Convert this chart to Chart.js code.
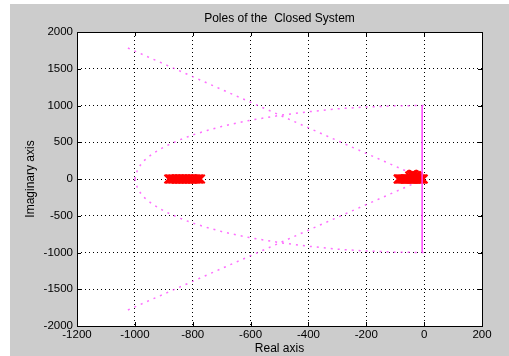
<!DOCTYPE html>
<html>
<head>
<meta charset="utf-8">
<script src="https://cdn.jsdelivr.net/npm/chart.js@4/dist/chart.umd.min.js"></script>
<style>
  html, body { margin: 0; padding: 0; background: #fff; }
  #wrap { width: 509px; height: 356px; }
</style>
</head>
<body>
<div id="wrap"><canvas id="poleChart" width="509" height="356"></canvas></div>
<script>
// tick labels of the axes
const xTicks = [-1200, -1000, -800, -600, -400, -200, 0, 200];
const yTicks = [-2000, -1500, -1000, -500, 0, 500, 1000, 1500, 2000];

// circle of natural frequency (dotted)
const circleX      = [-1000, -990, -970, -940, -900, -850, -800, -750, -700, -650, -600, -500, -400, -300, -200, -100, 0];
const circleUpperY = [0, 140, 245, 340, 435, 525, 600, 660, 715, 760, 800, 865, 915, 955, 980, 995, 1000];
const circleLowerY = [0, -140, -245, -340, -435, -525, -600, -660, -715, -760, -800, -865, -915, -955, -980, -995, -1000];

// damping lines (dotted)
const dampX      = [-1024, 0];
const dampUpperY = [1782, 0];
const dampLowerY = [-1782, 0];

// vertical solid line near the imaginary axis
const stemX = [-7, -7];
const stemY = [-1000, 1000];

// poles of the closed system (red x)
const leftPoleX = [-883, -878, -873, -868, -863, -858, -853, -848, -843, -838, -833, -828,
                   -823, -818, -813, -808, -803, -798, -793, -788, -783, -778, -773];
const leftPoleY = [0, 0, 0, 0, 0, 0, 0, 0, 0, 0, 0, 0, 0, 0, 0, 0, 0, 0, 0, 0, 0, 0, 0];
const rightPoleX = [-90, -86, -82, -78, -74, -70, -66, -62, -58, -54, -50, -46, -42, -38, -34,
                    -30, -26, -22, -18, -14, -10, -6, -3,
                    -50, -45, -40, -35, -30, -25, -20];
const rightPoleY = [0, 0, 0, 0, 0, 0, 0, 0, 0, 0, 0, 0, 0, 0, 0, 0, 0, 0, 0, 0, 0, 0, 0,
                    40, 55, 65, 60, 50, 45, 30];

function toPoints(xs, ys) {
    return xs.map((x, i) => ({x: x, y: ys[i]}));
}

const magentaDot = 'rgba(255, 60, 255, 0.75)';
const fontFamily = "'Liberation Sans', Arial, Helvetica, sans-serif";

// gray figure background and white axes
const backgroundPlugin = {
    id: 'figureBackground',
    beforeDraw(chart) {
        const ctx = chart.ctx;
        const a = chart.chartArea;
        ctx.save();
        ctx.fillStyle = '#ffffff';
        ctx.fillRect(0, 0, chart.width, chart.height);
        ctx.fillStyle = '#cccccc';
        ctx.fillRect(10, 4, chart.width - 10, chart.height - 4);
        ctx.fillStyle = '#ffffff';
        ctx.fillRect(a.left, a.top, a.right - a.left, a.bottom - a.top);
        ctx.restore();
    }
};

// axes box with inward ticks on all four sides
const boxPlugin = {
    id: 'axesBox',
    afterDraw(chart) {
        const ctx = chart.ctx;
        const a = chart.chartArea;
        const tl = 4;
        ctx.save();
        ctx.strokeStyle = '#000000';
        ctx.lineWidth = 1;
        ctx.beginPath();
        xTicks.forEach(v => {
            const px = Math.round(chart.scales.x.getPixelForValue(v)) + 0.5;
            ctx.moveTo(px, a.bottom); ctx.lineTo(px, a.bottom - tl);
            ctx.moveTo(px, a.top); ctx.lineTo(px, a.top + tl);
        });
        yTicks.forEach(v => {
            const py = Math.round(chart.scales.y.getPixelForValue(v)) + 0.5;
            ctx.moveTo(a.left, py); ctx.lineTo(a.left + tl, py);
            ctx.moveTo(a.right, py); ctx.lineTo(a.right - tl, py);
        });
        ctx.stroke();
        ctx.strokeRect(Math.round(a.left) + 0.5, Math.round(a.top) + 0.5,
                       Math.round(a.right - a.left), Math.round(a.bottom - a.top));
        ctx.restore();
    }
};

Chart.defaults.font.family = fontFamily;
Chart.defaults.font.size = 11.5;
Chart.defaults.color = '#000000';

new Chart(document.getElementById('poleChart'), {
    type: 'scatter',
    data: {
        datasets: [
            {
                data: toPoints(stemX, stemY),
                showLine: true,
                borderColor: '#ff40ff',
                borderWidth: 1.5,
                pointRadius: 0
            },
            {
                data: toPoints(rightPoleX, rightPoleY),
                pointStyle: 'crossRot',
                pointRadius: 6,
                borderColor: '#ff0000',
                borderWidth: 2
            },
            {
                data: toPoints(leftPoleX, leftPoleY),
                pointStyle: 'crossRot',
                pointRadius: 6,
                borderColor: '#ff0000',
                borderWidth: 2
            },
            {
                data: toPoints(circleX, circleUpperY),
                showLine: true,
                borderColor: magentaDot,
                borderWidth: 1.5,
                borderDash: [2, 5],
                pointRadius: 0
            },
            {
                data: toPoints(circleX, circleLowerY),
                showLine: true,
                borderColor: magentaDot,
                borderWidth: 1.5,
                borderDash: [2, 5],
                pointRadius: 0
            },
            {
                data: toPoints(dampX, dampUpperY),
                showLine: true,
                borderColor: magentaDot,
                borderWidth: 1.5,
                borderDash: [2, 5],
                pointRadius: 0
            },
            {
                data: toPoints(dampX, dampLowerY),
                showLine: true,
                borderColor: magentaDot,
                borderWidth: 1.5,
                borderDash: [2, 5],
                pointRadius: 0
            }
        ]
    },
    options: {
        responsive: false,
        animation: false,
        layout: { padding: { top: 0, left: 10, right: 27, bottom: 0 } },
        plugins: {
            legend: { display: false },
            tooltip: { enabled: false },
            title: {
                display: true,
                text: 'Poles of the  Closed System',
                fullSize: false,
                color: '#000000',
                font: { size: 12, weight: 'normal' },
                padding: { top: 11.4, bottom: 6.2 }
            }
        },
        scales: {
            x: {
                type: 'linear',
                min: -1200,
                max: 200,
                afterFit(scale) { scale.height = 30; },
                afterBuildTicks(scale) { scale.ticks = xTicks.map(v => ({value: v})); },
                ticks: {
                    padding: 2,
                    maxRotation: 0,
                    autoSkip: false,
                    callback: v => String(v)
                },
                grid: { color: '#000000', drawTicks: false, lineWidth: 1 },
                border: { display: false, dash: [1, 3] },
                title: {
                    display: true,
                    text: 'Real axis',
                    font: { size: 12 },
                    padding: { top: 0, bottom: 0 }
                }
            },
            y: {
                type: 'linear',
                min: -2000,
                max: 2000,
                afterFit(scale) { scale.width = 67; },
                afterBuildTicks(scale) { scale.ticks = yTicks.map(v => ({value: v})); },
                ticks: {
                    padding: 4,
                    autoSkip: false,
                    callback: v => String(v)
                },
                grid: { color: '#000000', drawTicks: false, lineWidth: 1 },
                border: { display: false, dash: [1, 3] },
                title: {
                    display: true,
                    text: 'Imaginary axis',
                    font: { size: 12 },
                    padding: { top: 13.8, bottom: 0 }
                }
            }
        }
    },
    plugins: [backgroundPlugin, boxPlugin]
});
</script>
</body>
</html>
